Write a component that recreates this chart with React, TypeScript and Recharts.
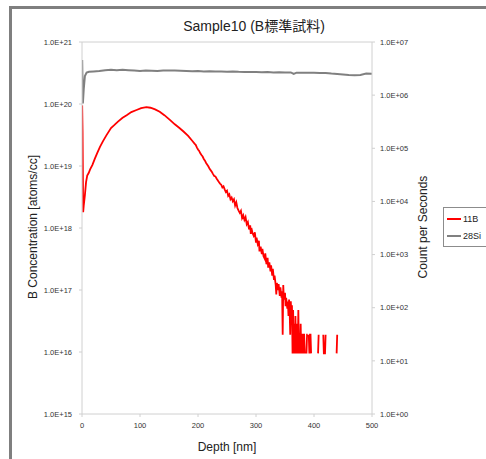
import React from "react";
import { LineChart, Line, XAxis, YAxis, ReferenceLine } from "recharts";

const depthTicks = [0, 100, 200, 300, 400, 500];
const concTicks = [1e15, 1e16, 1e17, 1e18, 1e19, 1e20, 1e21];
const cpsTicks = [1, 10, 100, 1e3, 1e4, 1e5, 1e6, 1e7];

// 28Si (right axis, counts per second)
const siDepth = [
  0.3, 1.5, 3, 5, 8, 12, 20, 30, 40, 50, 60, 70, 80, 90, 100, 110, 120, 130, 140, 150,
  160, 170, 180, 190, 200, 210, 220, 230, 240, 250, 260, 270, 280, 290, 300, 310, 320,
  330, 340, 350, 360, 365, 370, 380, 390, 400, 410, 420, 430, 440, 450, 460, 470, 480,
  490, 500,
];
const siCps = [
  4.6e6, 7.0e5, 1.3e6, 2.3e6, 2.65e6, 2.75e6, 2.8e6, 2.85e6, 2.95e6, 3.0e6, 2.95e6, 3.0e6,
  2.95e6, 2.9e6, 2.85e6, 2.9e6, 2.88e6, 2.85e6, 2.9e6, 2.92e6, 2.9e6, 2.88e6, 2.85e6,
  2.82e6, 2.85e6, 2.8e6, 2.83e6, 2.78e6, 2.8e6, 2.76e6, 2.8e6, 2.75e6, 2.72e6, 2.74e6,
  2.72e6, 2.7e6, 2.72e6, 2.68e6, 2.7e6, 2.66e6, 2.67e6, 2.5e6, 2.65e6, 2.65e6, 2.63e6,
  2.65e6, 2.6e6, 2.62e6, 2.55e6, 2.5e6, 2.45e6, 2.4e6, 2.38e6, 2.4e6, 2.55e6, 2.52e6,
];

// 11B (left axis, atoms/cc); null = zero counts, drawn as a gap
const bDepth = [
  0.3, 1, 2, 3, 5, 7, 9, 11.5, 14, 18, 22, 26, 31, 36, 42, 50, 56, 62, 70, 77, 85, 94,
  102, 111, 118, 126, 134, 142, 152, 160, 168, 175, 183, 190, 194, 196, 198, 200, 202,
  204, 206, 208, 210, 212, 214, 216, 218, 220, 222, 224, 226, 228, 230, 232, 234, 236,
  238, 240, 242, 244, 246, 248, 250, 252, 254, 256, 258, 260, 262, 264, 266, 268, 270,
  272, 274, 276, 278, 280, 282, 284, 286, 288, 290, 291, 292, 294, 296, 298, 300, 301,
  303, 305, 306, 308, 310, 311, 313, 315, 316, 318, 320, 321, 323, 325, 326, 328, 329,
  331, 332, 334, 335, 336, 338, 339, 341, 342, 344, 345, 346, 347, 348, 350, 351, 352,
  354, 355, 356, 357, 358, 359, 360, 361, 362, 363, 364, 365, 366, 367, 368, 369, 370,
  371, 372, 373, 374, 375, 376, 377, 378, 379, 380, 381, 382, 383, 384, 385, 387, 388,
  389, 390, 391, 392, 393, 394, 395, 396, 407, 408, 409, 416, 417, 418, 419, 420, 421,
  439, 440,
];
const bConc: (number | null)[] = [
  9.5e19, 3.5e19, 1.8e18, 2.3e18, 3.4e18, 5.5e18, 7.0e18, 7.7e18, 8.8e18, 1.04e19, 1.3e19,
  1.6e19, 2.03e19, 2.5e19, 3.12e19, 4.1e19, 4.6e19, 5.2e19, 6.0e19, 6.6e19, 7.4e19,
  8.0e19, 8.6e19, 8.9e19, 8.7e19, 8.2e19, 7.5e19, 6.6e19, 5.5e19, 4.7e19, 4.1e19, 3.6e19,
  3.05e19, 2.55e19, 2.3e19, 2.2e19, 2.0e19, 1.85e19, 1.75e19, 1.6e19, 1.5e19, 1.42e19,
  1.3e19, 1.22e19, 1.12e19, 1.05e19, 9.8e18, 9.0e18, 8.5e18, 8.0e18, 7.4e18, 6.9e18,
  6.8e18, 6.3e18, 5.9e18, 5.5e18, 5.2e18, 5.0e18, 4.5e18, 4.7e18, 4.2e18, 3.8e18, 4.0e18,
  3.3e18, 3.5e18, 2.9e18, 3.1e18, 2.7e18, 2.9e18, 2.3e18, 2.6e18, 2.1e18, 1.9e18, 1.75e18,
  1.9e18, 1.45e18, 1.6e18, 1.35e18, 1.5e18, 1.15e18, 1.25e18, 9.5e17, 1.1e18, 8.0e17,
  1.0e18, 8.3e17, 7.5e17, 8.5e17, 5.8e17, 7.0e17, 5.5e17, 6.2e17, 4.2e17, 5.0e17, 3.8e17,
  4.6e17, 3.5e17, 3.2e17, 3.9e17, 2.6e17, 3.3e17, 2.3e17, 2.8e17, 2.0e17, 2.5e17, 1.7e17,
  2.2e17, 1.45e17, 1.7e17, 1.2e17, 8.5e16, 1.3e17, 1.0e17, 1.25e17, 8.0e16, 1.1e17,
  7.5e16, 9.5e16, 1.9e16, 1.2e17, 7.0e16, 9.0e16, 5.5e16, 7.5e16, 5.0e16, 6.5e16, 3.8e16,
  7.0e16, 4.7e16, 1.9e16, 6.6e16, 3.8e16, 5.7e16, 9.5e15, 4.75e16, 9.5e15, 2.85e16,
  9.5e15, 3.8e16, 9.5e15, 1.9e16, 2.85e16, 9.5e15, 4.75e16, 9.5e15, 1.9e16, 9.5e15,
  2.85e16, 9.5e15, 1.9e16, 1.9e16, 9.5e15, 1.9e16, 1.9e16, 9.5e15, null, 9.5e15, 1.9e16,
  1.9e16, null, 1.9e16, 9.5e15, 1.9e16, 1.9e16, 9.5e15, null, 9.5e15, 1.9e16, null,
  1.9e16, 9.5e15, 9.5e15, 9.5e15, 1.9e16, null, 9.5e15, 1.9e16,
];

const seriesNames = ["11B", "28Si"];
const seriesColors = ["#ff0000", "#808080"];

const siData = siDepth.map((d, i) => ({ depth: d, cps: siCps[i] }));
const bData = bDepth.map((d, i) => ({ depth: d, conc: bConc[i] }));

const FONT = "'Liberation Sans', Arial, 'Noto Sans CJK JP', sans-serif";

function fmtE(v: number) {
  const e = Math.round(Math.log10(v));
  return `1.0E${e < 0 ? "-" : "+"}${String(Math.abs(e)).padStart(2, "0")}`;
}

function LegendBox() {
  return (
    <div
      style={{
        position: "absolute", left: 443, top: 207, width: 60,
        border: "1px solid #8c8c8c", background: "#fff",
        padding: "2px 3px", fontFamily: FONT, fontSize: 9, color: "#222",
      }}
    >
      {seriesNames.map((n, i) => (
        <div key={n} style={{ display: "flex", alignItems: "center", height: 17 }}>
          <span style={{ display: "inline-block", width: 14, height: 2, background: seriesColors[i], marginRight: 2 }} />
          {n}
        </div>
      ))}
    </div>
  );
}

export default function App() {
  const tick = { fill: "#333", fontSize: 7.5, fontFamily: FONT };
  return (
    <div
      style={{
        position: "absolute", left: 0, top: 0, width: 486, height: 459,
        overflow: "hidden", background: "#fff", fontFamily: FONT,
      }}
    >
      {/* outer chart frame, cropped on right and bottom */}
      <div
        style={{
          position: "absolute", left: 9, top: 6, width: 600, height: 600,
          borderLeft: "3px solid #7f7f7f", borderTop: "3px solid #7f7f7f",
        }}
      />
      <div style={{ position: "absolute", left: 0, top: 0 }}>
        <LineChart width={486} height={459} margin={{ top: 42, right: 0, bottom: 0, left: 0 }}>
          <XAxis
            type="number" dataKey="depth" domain={[0, 500]} ticks={depthTicks}
            height={45} tick={tick} tickSize={3} tickMargin={6}
            stroke="#d0d0d0" allowDataOverflow
          />
          <YAxis
            yAxisId="left" scale="log" type="number" domain={[1e15, 1e21]} ticks={concTicks}
            tickFormatter={fmtE} width={82} tick={tick} tickSize={3} tickMargin={7}
            stroke="#d0d0d0" allowDataOverflow
          />
          <YAxis
            yAxisId="right" orientation="right" scale="log" type="number" domain={[1, 1e7]}
            ticks={cpsTicks} tickFormatter={fmtE} width={114} tick={tick} tickSize={3}
            tickMargin={5} stroke="#d0d0d0" allowDataOverflow
          />
          <ReferenceLine yAxisId="left" y={1e21} stroke="#d0d0d0" />
          <Line
            yAxisId="right" data={siData} dataKey="cps" name="28Si" stroke="#808080"
            strokeWidth={2} dot={false} isAnimationActive={false}
          />
          <Line
            yAxisId="left" data={bData} dataKey="conc" name="11B" stroke="#ff0000"
            strokeWidth={1.8} dot={false} isAnimationActive={false}
          />
        </LineChart>
      </div>
      <LegendBox />
      <div
        style={{
          position: "absolute", left: 154, width: 200, top: 15, textAlign: "center",
          fontSize: 14, color: "#222", whiteSpace: "nowrap",
        }}
      >
        Sample10 (B標準試料)
      </div>
      <div
        style={{
          position: "absolute", left: 127, width: 200, top: 440, textAlign: "center",
          fontSize: 12, color: "#222",
        }}
      >
        Depth [nm]
      </div>
      <div
        style={{
          position: "absolute", left: 33 - 100, top: 228 - 8, width: 200, textAlign: "center",
          fontSize: 12, color: "#222", transform: "rotate(-90deg)", whiteSpace: "nowrap",
        }}
      >
        B Concentration [atoms/cc]
      </div>
      <div
        style={{
          position: "absolute", left: 423 - 100, top: 228 - 8, width: 200, textAlign: "center",
          fontSize: 12, color: "#222", transform: "rotate(-90deg)", whiteSpace: "nowrap",
        }}
      >
        Count per Seconds
      </div>
    </div>
  );
}
